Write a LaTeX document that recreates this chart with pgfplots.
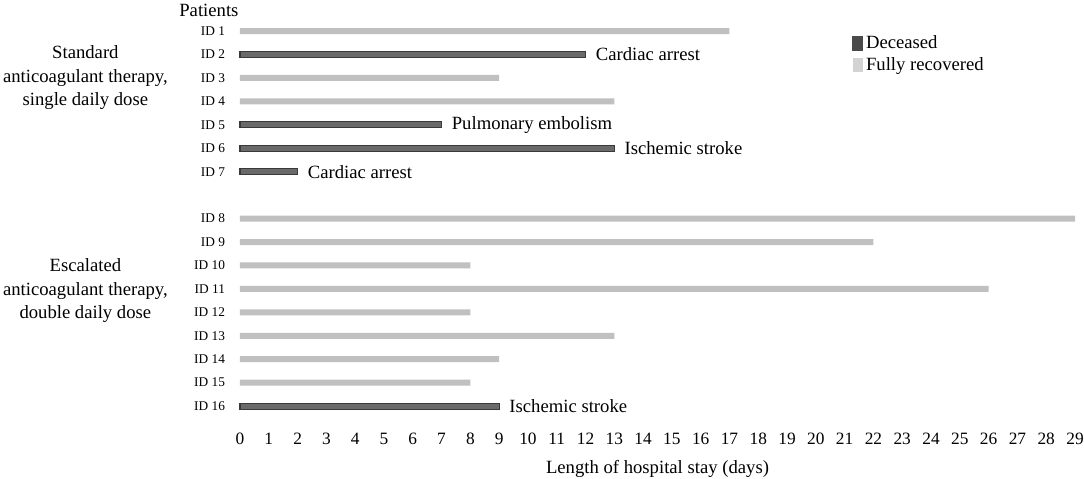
\documentclass[border=0pt]{standalone}
\usepackage{pgfplots}
\pgfplotsset{compat=1.18}
\usepackage{fontspec}
\setmainfont{Liberation Serif}

\definecolor{deadfill}{HTML}{6A6A6A}
\definecolor{deadline}{HTML}{3A3A3A}
\definecolor{recfill}{HTML}{C0C0C0}

\begin{document}
\begin{tikzpicture}
% fixed page frame: 1084x478 px at 0.75pt/px, axis area starts at (240px, 420px)
\path[use as bounding box] (-180pt,-43.5pt) rectangle (633pt,315.1pt);
\begin{axis}[
  at={(0,0)}, anchor=south west,
  scale only axis,
  width=626.25pt, height=300.6pt,
  xmin=0, xmax=29,
  ymin=-0.5, ymax=16.6,
  y dir=reverse,
  clip=false,
  axis line style={draw=none},
  major tick style={draw=none},
  xtick={0,...,29},
  ytick={0,1,2,3,4,5,6,8,9,10,11,12,13,14,15,16},
  yticklabels={ID 1,ID 2,ID 3,ID 4,ID 5,ID 6,ID 7,ID 8,ID 9,ID 10,ID 11,ID 12,ID 13,ID 14,ID 15,ID 16},
  /pgf/number format/assume math mode=true,
  xticklabel style={font=\fontsize{13}{15}\selectfont, yshift=-6pt},
  yticklabel style={font=\fontsize{10}{12}\selectfont, anchor=east, xshift=-3.5pt},
  xlabel={Length of hospital stay (days)},
  xlabel style={font=\fontsize{14}{16}\selectfont, yshift=-5pt},
  xbar, bar width=4.5pt, bar shift=0pt,
  legend style={at={(0.733,0.966)}, anchor=north west, draw=none, fill=none,
    font=\fontsize{14}{16}\selectfont, row sep=1pt, inner sep=0pt},
  legend cell align=left,
]
\addplot[fill=deadfill, draw=deadline, line width=0.8pt,
  area legend,
  legend image code/.code={\fill[deadfill!70!black] (0pt,-5.5pt) rectangle (7.5pt,5.5pt);},
  nodes near coords, point meta=explicit symbolic,
  every node near coord/.append style={anchor=west, xshift=4pt, font=\fontsize{14}{16}\selectfont, text=black}]
coordinates {
(12,1) [Cardiac arrest]
(7,4) [Pulmonary embolism]
(13,5) [Ischemic stroke]
(2,6) [Cardiac arrest]
(9,16) [Ischemic stroke]
};
\addlegendentry{Deceased}
\addplot[fill=recfill, draw=none,
  area legend,
  legend image code/.code={\fill[recfill!70!white] (0pt,-5.5pt) rectangle (7.5pt,5.5pt);}]
coordinates {
(17,0)
(9,2)
(13,3)
(29,8)
(22,9)
(8,10)
(26,11)
(8,12)
(13,13)
(9,14)
(8,15)
};
\addlegendentry{Fully recovered}
\node[align=center, inner sep=0pt, font=\fontsize{14}{17.6}\selectfont] at (axis cs:-5.37,2) {Standard\\anticoagulant therapy,\\single daily dose};
\node[align=center, inner sep=0pt, font=\fontsize{14}{17.6}\selectfont] at (axis cs:-5.37,11.09) {Escalated\\anticoagulant therapy,\\double daily dose};
\node[font=\fontsize{14}{16}\selectfont] at (axis cs:-1.08,-0.9) {Patients};
\end{axis}
\end{tikzpicture}
\end{document}
